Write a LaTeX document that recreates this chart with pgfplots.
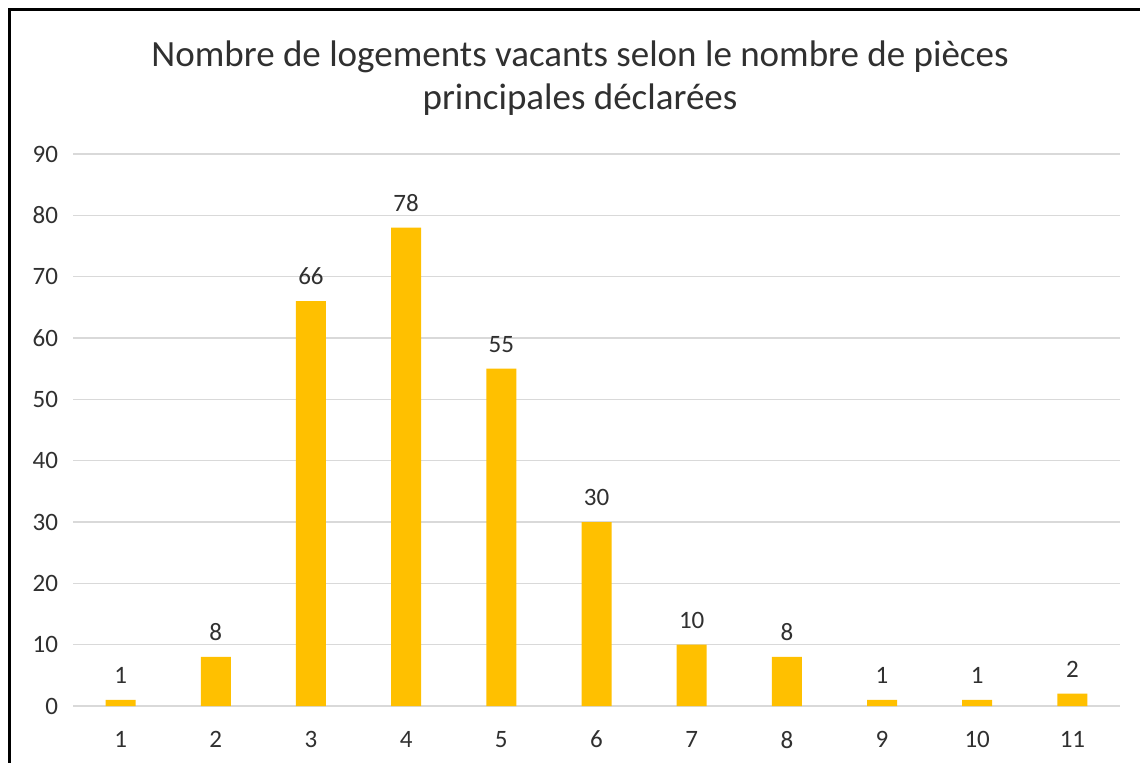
\documentclass[border=0pt]{standalone}
\usepackage{pgfplots}
\pgfplotsset{compat=1.18}
\usepackage{fontspec}
\setmainfont{Carlito}
\definecolor{barc}{HTML}{FFC000}
\definecolor{gridc}{HTML}{D9D9D9}
\definecolor{txt}{HTML}{303030}
\begin{document}
\begin{tikzpicture}
\useasboundingbox (0,0) rectangle (570pt,381pt);
\fill[white] (0,0) rectangle (570pt,381pt);
\draw[line width=1.5pt,black] (4.5pt,-1pt) -- (4.5pt,376pt) -- (571pt,376pt);
\node[anchor=base,font=\fontsize{18.5}{22}\selectfont,text=txt,align=center] at (290pt,347.5pt) {Nombre de logements vacants selon le nombre de pièces};
\node[anchor=base,font=\fontsize{18.5}{22}\selectfont,text=txt,align=center] at (290pt,326pt) {principales déclarées};
\begin{axis}[
  at={(36.5pt,28pt)}, anchor=origin,
  scale only axis, width=523.5pt, height=276pt,
  xmin=0.5, xmax=11.5, ymin=0, ymax=90,
  ytick={0,10,...,90},
  xtick={1,...,11},
  axis line style={draw=none},
  axis x line*=bottom,
  ymajorgrids, grid style={gridc, line width=0.75pt},
  major tick length=0pt,
  tick label style={font=\fontsize{12.5}{14}\selectfont, text=txt},
  /pgf/number format/assume math mode=true,
  yticklabel style={xshift=-4pt},
  xticklabel style={yshift=-9pt},
  clip=false,
]
\addplot[ybar, bar width=15pt, fill=barc, draw=none,
  nodes near coords, nodes near coords style={font=\fontsize{12.5}{14}\selectfont, text=txt, yshift=4.5pt}]
  coordinates {(1,1) (2,8) (3,66) (4,78) (5,55) (6,30) (7,10) (8,8) (9,1) (10,1) (11,2)};
\end{axis}
\end{tikzpicture}
\end{document}
